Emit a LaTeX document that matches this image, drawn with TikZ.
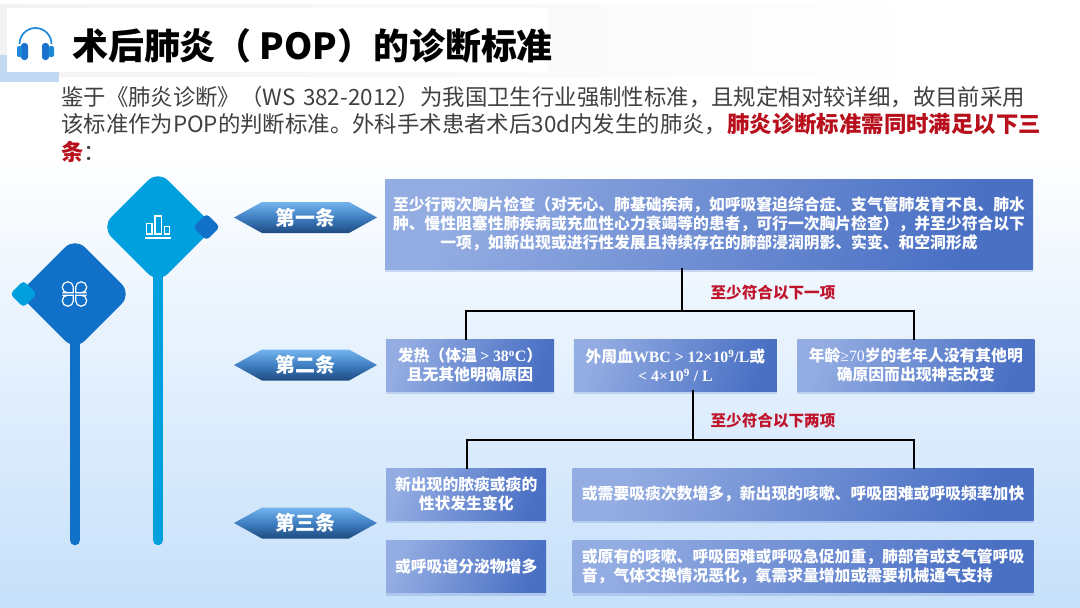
\documentclass[tikz,border=0pt]{standalone}
\usepackage{fontspec}
\setmainfont{Noto Sans CJK SC}
\newfontfamily\latinserif{Liberation Serif}
\usetikzlibrary{arrows.meta,positioning,calc,shadows,shapes.symbols}
\definecolor{pagetint}{HTML}{C6E0FA}
\definecolor{gemdark}{HTML}{1170C8}
\definecolor{gemlight}{HTML}{009FDD}
\definecolor{cardleft}{HTML}{93ACE2}
\definecolor{cardright}{HTML}{4A70C4}
\definecolor{cardshade}{HTML}{7F9BD6}
\definecolor{rulered}{HTML}{C0142C}
\definecolor{leadred}{HTML}{B80F1C}
\definecolor{bodyink}{HTML}{404040}
\definecolor{tagtop}{HTML}{74B4EE}
\definecolor{tagmid}{HTML}{3F7FC2}
\definecolor{tagbot}{HTML}{1D4A80}
\definecolor{phoneband}{HTML}{1E88D8}
\definecolor{phonecup}{HTML}{1A72CC}
\definecolor{cornertint}{HTML}{C3D8F2}

\begin{document}
\begin{tikzpicture}[
  x=1pt,y=-1pt,
  font=\fontsize{15.8}{19}\selectfont\bfseries,
  card/.style={shading=axis,left color=cardleft,right color=cardright,shading angle=70,
    text=white,align=center,inner sep=0pt,
    drop shadow={shadow xshift=0pt,shadow yshift=-3pt,opacity=.35,fill=cardshade}},
  wide/.style={card,minimum width=648pt,minimum height=90pt},
  tri/.style={card,minimum height=52pt},
  low/.style={card,minimum height=52pt},
  tag/.style={shape=signal,signal to=east and west,signal pointer angle=58,draw=none,
    top color=tagtop,bottom color=tagbot,middle color=tagmid,text=white,inner sep=0pt,
    minimum width=143pt,minimum height=31pt,font=\fontsize{20}{22}\selectfont\bfseries},
  gem/.style={rotate=45,rounded corners=14pt,minimum size=80pt,inner sep=0pt},
  chip/.style={rotate=45,rounded corners=4pt,minimum size=19pt,inner sep=0pt},
  stem/.style={line width=10.6pt,line cap=round},
  tree/.style={line width=2.3pt,black,line cap=rect},
  lead/.style={text=rulered,font=\fontsize{15.6}{18}\selectfont\bfseries,inner sep=0pt},
  glyph/.style={white,line width=1.2pt}
]
% page
\fill[white] (0,0) rectangle (1080,608);
\shade[top color=white,bottom color=pagetint] (0,150) rectangle (1080,608);

% title band
\shade[left color=black!5,right color=white] (0,4) rectangle (930,76);
\fill[cornertint] (0,55) rectangle (59,82);
\fill[white] (7,8) rectangle (548,72);
\node[anchor=west,inner sep=0pt,font=\fontsize{35.9}{38}\selectfont\bfseries] (title) at (72,46) {术后肺炎（ POP）的诊断标准};

% headphones
\draw[phoneband,line width=1.7pt] (19.5,44) arc[start angle=180,end angle=360,radius=16];
\fill[phonecup,rounded corners=3pt] (21,43) rectangle (28,60);
\fill[phonecup,rounded corners=3pt] (42,43) rectangle (49,60);
\fill[phoneband,rounded corners=2pt] (17,46) rectangle (22,57);
\fill[phoneband,rounded corners=2pt] (48.5,46) rectangle (54,57);

% lead text
\node[anchor=north west,inner sep=0pt,align=left,text=bodyink,font=\fontsize{22.4}{27.5}\selectfont\mdseries] (intro) at (61,86)
  {鉴于《肺炎诊断》（WS\,\,382-2012）为我国卫生行业强制性标准，且规定相对较详细，故目前采用\\
   该标准作为POP的判断标准。外科手术患者术后30d内发生的肺炎，{\bfseries\color{leadred}肺炎诊断标准需同时满足以下三}\\
   {\bfseries\color{leadred}条}：};

% left ornaments
\coordinate (darkfoot) at (75,540);
\coordinate (lightfoot) at (158,540);
\draw[stem,gemdark] (75,330) -- (darkfoot);
\draw[stem,gemlight] (158,262) -- (lightfoot);
\node[gem,fill=gemdark] (gemA) at (75,294) {};
\node[gem,fill=gemlight] (gemB) at (158,227) {};
\node[chip,fill=gemlight] (chipA) at (23.5,294) {};
\node[chip,fill=gemdark] (chipB) at (206.5,227) {};
\foreach \sx/\sy in {1/1,-1/1,1/-1,-1/-1}
  \draw[glyph,shift={(74.5,294)},xscale=\sx,yscale=\sy,rounded corners=5.4pt] (1.2,6.7) -- (1.2,12.2) -- (12.2,12.2) -- (12.2,1.2) -- (6.7,1.2) [sharp corners] -- (1.2,1.2) -- cycle;
\draw[glyph] (146.5,234) rectangle (152,223.5);
\draw[glyph] (155,234) rectangle (161.5,216);
\draw[glyph] (164.5,234) rectangle (169.5,226.5);
\draw[glyph] (145,238) -- (171,238);

% clause tags
\node[tag] (tagA) at (305.5,217.5) {第一条};
\node[tag] (tagB) at (305.5,365) {第二条};
\node[tag] (tagC) at (305.5,523) {第三条};

% criteria
\node[wide] (chest) at (709,224) {至少行两次胸片检查（对无心、肺基础疾病，如呼吸窘迫综合症、支气管肺发育不良、肺水\\
  肿、慢性阻塞性肺疾病或充血性心力衰竭等的患者，可行一次胸片检查），并至少符合以下\\
  一项，如新出现或进行性发展且持续存在的肺部浸润阴影、实变、和空洞形成};
\node[tri,minimum width=168pt,below right=70pt and 1pt of chest.south west,anchor=north west] (fever)
  {发热（体温 {\latinserif>} {\latinserif 38\textsuperscript{o}C}）\\且无其他明确原因};
\node[tri,minimum width=203pt,right=19.5pt of fever] (wbc)
  {外周血{\latinserif WBC > 12×10\textsuperscript{9}/L}或\\{\latinserif < 4×10\textsuperscript{9} / L}};
\node[tri,minimum width=237pt,right=20pt of wbc] (age)
  {年龄{\latinserif\mdseries ≥70}岁的老年人没有其他明\\确原因而出现神志改变};
\node[low,minimum width=160pt,anchor=north west] (sputum) at (386,468)
  {新出现的脓痰或痰的\\性状发生变化};
\node[low,minimum width=461pt,right=26pt of sputum] (cough)
  {或需要吸痰次数增多，新出现的咳嗽、呼吸困难或呼吸频率加快};
\node[low,minimum width=160pt,below=20pt of sputum] (secrete)
  {或呼吸道分泌物增多};
\node[low,minimum width=461pt,align=left,right=26pt of secrete] (worsen)
  {或原有的咳嗽、呼吸困难或呼吸急促加重，肺部音或支气管呼吸\\音，气体交换情况恶化，氧需求量增加或需要机械通气支持};

% connectors
\coordinate (hubA) at (682,311);
\coordinate (hubAl) at (466,311);
\coordinate (hubAr) at (914,311);
\coordinate (hubB) at (693,440);
\coordinate (hubBl) at (467,440);
\coordinate (hubBr) at (914,440);
\draw[tree] (chest.south -| hubA) -- (hubA);
\draw[tree] (fever.north -| hubAl) -- (hubAl) -- (hubAr) -- (age.north -| hubAr);
\draw[tree] (wbc.south -| hubB) -- (hubB);
\draw[tree] (sputum.north -| hubBl) -- (hubBl) -- (hubBr) -- (cough.north -| hubBr);

% branch notes
\node[lead] (noteA) at (773,293) {至少符合以下一项};
\node[lead] (noteB) at (773,421) {至少符合以下两项};
\end{tikzpicture}
\end{document}
